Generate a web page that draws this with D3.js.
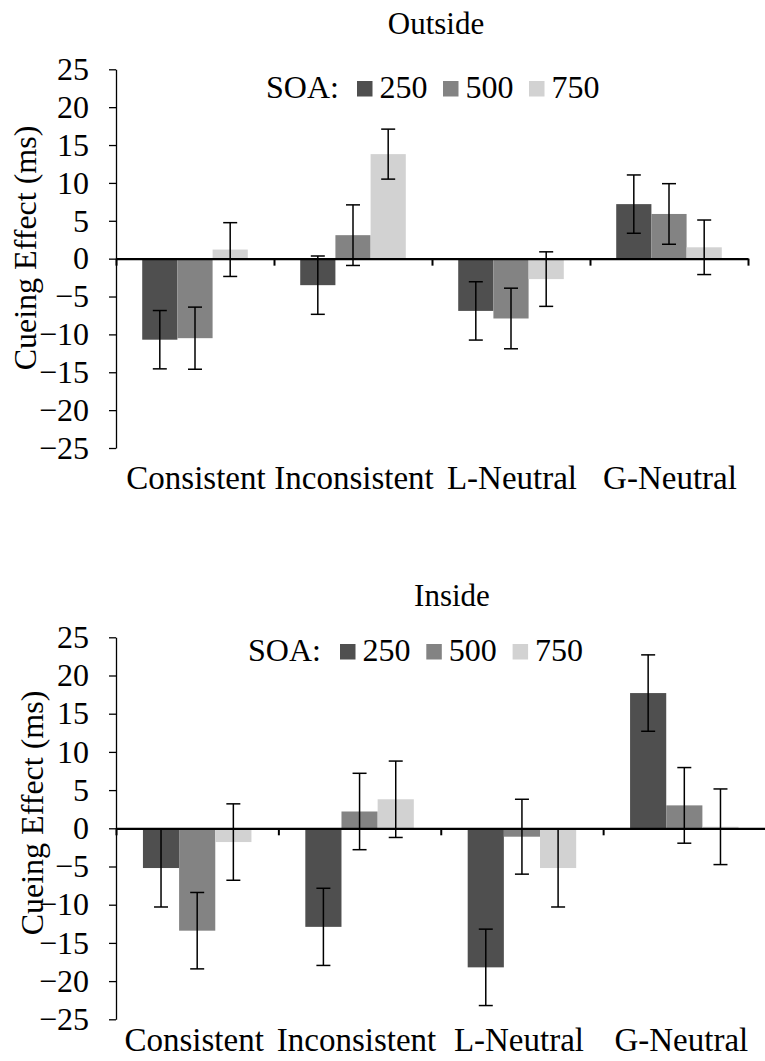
<!DOCTYPE html>
<html>
<head>
<meta charset="utf-8">
<script src="https://cdn.jsdelivr.net/npm/d3@7"></script>
<style>
  html, body { margin: 0; padding: 0; background: #fff; }
  svg text { font-family: "Liberation Serif", Tinos, "Times New Roman", "DejaVu Serif", serif !important; fill: #000; }
</style>
</head>
<body>
<div id="chart"></div>
<script>
const categories = ['Consistent', 'Inconsistent', 'L-Neutral', 'G-Neutral']
const soaLevels = ['250', '500', '750']
const yTicks = [-25, -20, -15, -10, -5, 0, 5, 10, 15, 20, 25]

// Outside panel: means and error (+/-) per SOA, one value per category
const outside250 = [-10.7, -3.5, -6.9, 7.2]
const outside500 = [-10.5, 3.1, -7.9, 5.9]
const outside750 = [1.2, 13.8, -2.7, 1.5]
const outsideErr250 = [3.85, 3.85, 3.85, 3.85]
const outsideErr500 = [4.1, 4.0, 4.0, 4.0]
const outsideErr750 = [3.55, 3.3, 3.6, 3.6]

// Inside panel
const inside250 = [-5.2, -12.9, -18.2, 17.7]
const inside500 = [-13.4, 2.2, -1.1, 3.0]
const inside750 = [-1.8, 3.8, -5.2, 0.2]
const insideErr250 = [5.1, 5.05, 5.0, 5.0]
const insideErr500 = [5.0, 5.0, 4.9, 4.95]
const insideErr750 = [5.0, 5.0, 5.1, 4.95]

const colors = { '250': '#4f4f4f', '500': '#838383', '750': '#d2d2d2' }

const width = 765
const height = 1061

const svg = d3.select('#chart').append('svg')
  .attr('width', width)
  .attr('height', height)

svg.append('rect').attr('width', width).attr('height', height).attr('fill', '#fff')

function toRows(means, errs) {
  return categories.flatMap((cat, i) =>
    soaLevels.map((soa, j) => ({ cat, soa, value: means[j][i], err: errs[j][i] })),
  )
}

function drawPanel(p) {
  const g = svg.append('g')

  const y = d3.scaleLinear().domain([-25, 25]).range([p.bottom, p.top])
  const x0 = d3.scaleBand().domain(categories).range([p.left, p.right]).padding(0)
  const x1 = d3.scaleBand().domain(soaLevels).range([0, x0.bandwidth()]).paddingInner(0).paddingOuter(0.745)
  const xEdges = d3.scaleLinear().domain([0, categories.length]).range([p.left, p.right])

  // title
  g.append('text')
    .attr('x', p.titleX)
    .attr('y', p.titleY)
    .attr('text-anchor', 'middle')
    .style('font-size', '31px')
    .text(p.title)

  // y axis
  const yAxis = g.append('g')
    .attr('transform', `translate(${p.left},0)`)
    .call(d3.axisLeft(y).tickValues(yTicks).tickSize(7).tickSizeOuter(0).tickPadding(20).tickFormat(d3.format('d')))
  yAxis.attr('font-family', null)
  yAxis.select('.domain').attr('stroke', '#000').attr('stroke-width', 1.3)
  yAxis.selectAll('.tick line').attr('stroke', '#000').attr('stroke-width', 1.3)
  yAxis.selectAll('.tick text')
    .style('font-size', '32px')
    .attr('fill', '#000')

  // y axis title
  g.append('text')
    .attr('transform', `translate(${p.yTitleX},${p.yTitleY}) rotate(-90)`)
    .attr('text-anchor', 'middle')
    .style('font-size', '32px')
    .text('Cueing Effect (ms)')

  const rows = toRows(p.means, p.errs)

  // bars
  g.append('g').selectAll('rect')
    .data(rows)
    .join('rect')
    .attr('x', (d) => x0(d.cat) + x1(d.soa))
    .attr('width', x1.bandwidth())
    .attr('y', (d) => y(Math.max(0, d.value)))
    .attr('height', (d) => Math.abs(y(d.value) - y(0)))
    .attr('fill', (d) => colors[d.soa])

  // zero axis with category-boundary ticks
  const xAxis = g.append('g')
    .attr('transform', `translate(0,${y(0)})`)
    .call(d3.axisBottom(xEdges).tickValues(d3.range(categories.length + 1)).tickSize(7).tickSizeOuter(0).tickFormat(''))
  xAxis.select('.domain').attr('stroke', '#000').attr('stroke-width', 2.2)
  xAxis.selectAll('.tick line').attr('stroke', '#000').attr('stroke-width', 2)

  // error bars
  const cap = 7
  const eb = g.append('g').attr('stroke', '#000').attr('stroke-width', 1.5)
  rows.forEach((d) => {
    const cx = x0(d.cat) + x1(d.soa) + x1.bandwidth() / 2
    const yHi = y(d.value + d.err)
    const yLo = y(d.value - d.err)
    eb.append('line').attr('x1', cx).attr('x2', cx).attr('y1', yHi).attr('y2', yLo)
    eb.append('line').attr('x1', cx - cap).attr('x2', cx + cap).attr('y1', yHi).attr('y2', yHi)
    eb.append('line').attr('x1', cx - cap).attr('x2', cx + cap).attr('y1', yLo).attr('y2', yLo)
  })

  // category labels
  g.append('g').selectAll('text')
    .data(categories)
    .join('text')
    .attr('x', (d) => x0(d) + x0.bandwidth() / 2 + p.catShift)
    .attr('y', p.catY)
    .attr('text-anchor', 'middle')
    .style('font-size', '33px')
    .text((d) => d)

  // legend
  const lg = g.append('g')
  lg.append('text')
    .attr('x', p.legendX)
    .attr('y', p.legendY)
    .style('font-size', '32px')
    .text('SOA:')
  soaLevels.forEach((soa, i) => {
    const bx = p.legendBoxX + i * p.legendStep
    lg.append('rect')
      .attr('x', bx)
      .attr('y', p.legendY - 17)
      .attr('width', 15.5)
      .attr('height', 15.5)
      .attr('fill', colors[soa])
    lg.append('text')
      .attr('x', bx + 22.5)
      .attr('y', p.legendY)
      .style('font-size', '32px')
      .text(soa)
  })
}

drawPanel({
  title: 'Outside',
  titleX: 436, titleY: 34,
  left: 116, right: 748, top: 69.3, bottom: 448,
  means: [outside250, outside500, outside750],
  errs: [outsideErr250, outsideErr500, outsideErr750],
  yTitleX: 36, yTitleY: 248,
  catY: 489, catShift: 1,
  legendX: 266, legendBoxX: 357, legendStep: 86, legendY: 98,
})

drawPanel({
  title: 'Inside',
  titleX: 452, titleY: 606,
  left: 116, right: 765.5, top: 637.3, bottom: 1019.3,
  means: [inside250, inside500, inside750],
  errs: [insideErr250, insideErr500, insideErr750],
  yTitleX: 43, yTitleY: 813,
  catY: 1051, catShift: -3,
  legendX: 248, legendBoxX: 340, legendStep: 86.3, legendY: 661,
})
</script>
</body>
</html>
